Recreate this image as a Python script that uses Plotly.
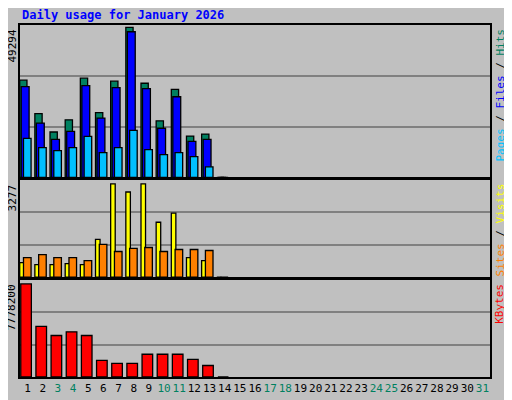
import plotly.graph_objects as go

days = list(range(1, 32))
hits = [31940, 20920, 14920, 18920, 32600, 21260, 31600, 49294, 30930, 18590, 28930, 13580, 14250, 0]
files = [29830, 17820, 12480, 15150, 30170, 19490, 29500, 47850, 29170, 16150, 26500, 11810, 12480, 0]
pages = [12810, 9810, 8810, 9810, 13480, 8140, 9810, 15480, 9140, 7470, 8140, 6810, 3470, 0]
visits = [508, 437, 437, 472, 437, 1324, 3277, 2993, 3277, 1928, 2247, 685, 579, 0]
sites = [685, 792, 685, 685, 579, 1147, 898, 1005, 1040, 898, 969, 969, 934, 0]
kbytes = [7778200, 4234000, 3467000, 3774000, 3467000, 1389000, 1133000, 1133000,
          1900000, 1900000, 1900000, 1474000, 963000, 0]
weekend = {3, 4, 10, 11, 17, 18, 24, 25, 31}
max1, max2, max3 = 49294, 3277, 7778200

d = days[:len(hits)]
fig = go.Figure()
def bar(y, color, off, w, ax):
    fig.add_trace(go.Bar(x=d, y=y, offset=off, width=w, marker=dict(color=color, line=dict(color="black", width=1.3)),
                         xaxis=ax[0], yaxis=ax[1], showlegend=False, hoverinfo="skip"))
bar(hits, "#008060", -0.52, 0.48, ("x", "y"))
bar(files, "#0000FF", -0.42, 0.52, ("x", "y"))
bar(pages, "#00C0FF", -0.27, 0.5, ("x", "y"))
bar(visits, "#FFFF00", -0.52, 0.3, ("x2", "y2"))
bar(sites, "#FF8000", -0.27, 0.5, ("x2", "y2"))
bar(kbytes, "#FF0000", -0.45, 0.7, ("x3", "y3"))

font = "DejaVu Sans Mono"
ticktext = [f"<span style='color:#008060'>{i}</span>" if i in weekend else str(i) for i in days]
xcommon = dict(range=[0.5, 31.5], showgrid=False, zeroline=False, showline=True, linecolor="black", mirror=True, linewidth=1.5)
fig.update_layout(
    width=504, height=392, margin=dict(l=12, r=22, t=17, b=23, autoexpand=False),
    paper_bgcolor="#C0C0C0", plot_bgcolor="#C0C0C0", barmode="overlay",
    font=dict(family=font, size=11, color="black"),
    xaxis=dict(**xcommon, anchor="y", showticklabels=False, ticks=""),
    xaxis2=dict(**xcommon, anchor="y2", matches="x", showticklabels=False, ticks=""),
    xaxis3=dict(**xcommon, anchor="y3", matches="x", tickvals=days, ticktext=ticktext, ticks="",
                tickangle=0, tickfont=dict(size=11)),
)
def yax(m, dom, h, top):
    r = m * top / h
    return dict(domain=dom, range=[0, r], tickvals=[r / 3, 2 * r / 3], showticklabels=False, ticks="",
                gridcolor="#808080", gridwidth=1.5, zeroline=False, showline=True, linecolor="black", mirror=True, linewidth=1.5)
fig.update_layout(yaxis=yax(max1, [0.567, 1.0], 147.7, 150),
                  yaxis2=yax(max2, [0.284, 0.560], 92.3, 96.3),
                  yaxis3=yax(max3, [0.0, 0.276], 91.3, 95.3))
fig.add_annotation(text="<b>Daily usage for January 2026</b>", x=0.0, y=1.0, xref="paper", yref="paper", yshift=10,
                   xanchor="left", yanchor="middle", showarrow=False, font=dict(color="#0000FF", size=12))
for t, yr in [(str(max1), "y"), (str(max2), "y2"), (str(max3), "y3")]:
    fig.add_annotation(text=t, xref="paper", yref=f"{yr} domain", x=0, y=1, xshift=-8, yshift=-3,
                       xanchor="center", yanchor="top", textangle=-90, showarrow=False, font=dict(size=11))
labels = [("<span style='color:#00C0FF'>Pages</span> / <span style='color:#0000FF'>Files</span> / <span style='color:#008060'>Hits</span>", "y"),
          ("<span style='color:#FF8000'>Sites</span> / <span style='color:#FFFF00'>Visits</span>", "y2"),
          ("<span style='color:#FF0000'>KBytes</span>", "y3")]
for t, yr in labels:
    fig.add_annotation(text=t, xref="paper", yref=f"{yr} domain", x=1, y=1, xshift=10, yshift=-2,
                       xanchor="center", yanchor="top", textangle=-90, showarrow=False, font=dict(size=11))
fig.write_html("out.html")
